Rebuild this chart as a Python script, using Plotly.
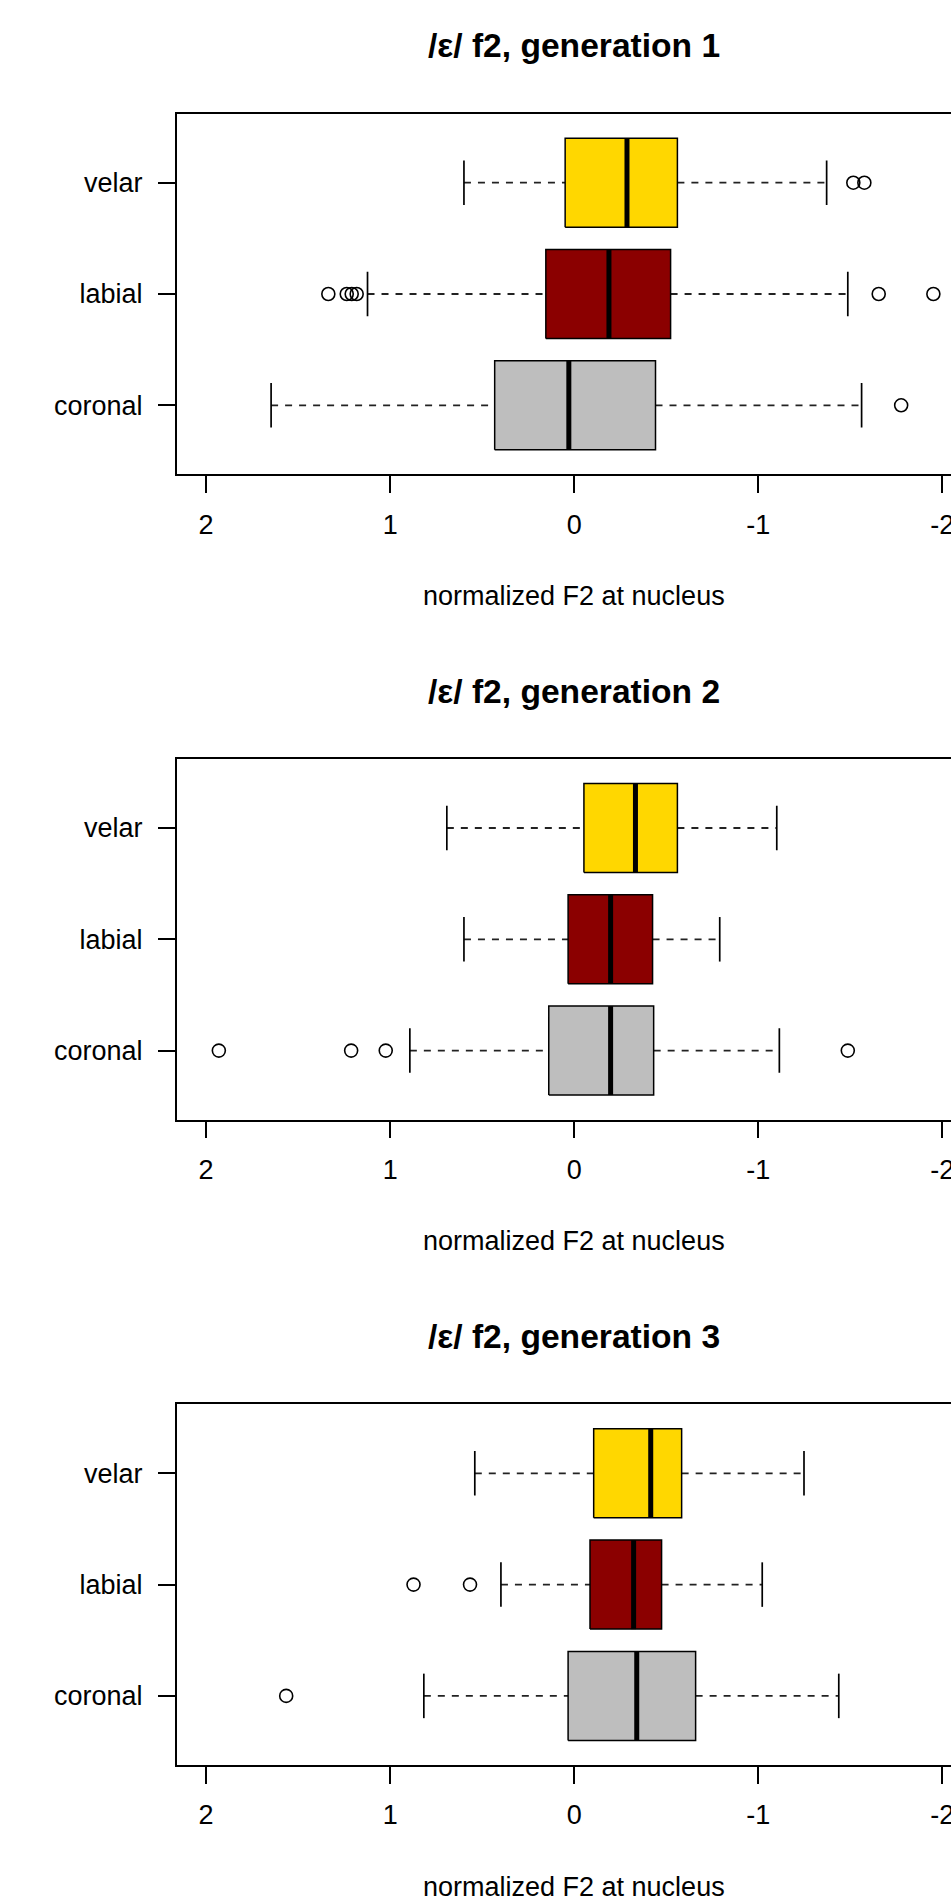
import plotly.graph_objects as go

# ---------------- data ----------------
categories = ["coronal", "labial", "velar"]
box_colors = ["#BEBEBE", "#8B0000", "#FFD700"]
titles = ["/ε/ f2, generation 1", "/ε/ f2, generation 2", "/ε/ f2, generation 3"]
x_tick_vals = [2, 1, 0, -1, -2]
x_tick_text = ["2", "1", "0", "-1", "-2"]
x_label = "normalized F2 at nucleus"

# generation 1  (order: coronal, labial, velar)
g1_whisker_max = [1.647, 1.123, 0.599]
g1_q3 = [0.432, 0.154, 0.049]
g1_median = [0.029, -0.189, -0.287]
g1_q1 = [-0.442, -0.524, -0.561]
g1_whisker_min = [-1.562, -1.487, -1.372]
g1_outliers = [[-1.777], [1.336, 1.236, 1.209, 1.182, -1.655, -1.952], [-1.517, -1.577]]

# generation 2
g2_whisker_max = [0.893, 0.599, 0.692]
g2_q3 = [0.138, 0.033, -0.053]
g2_median = [-0.198, -0.198, -0.333]
g2_q1 = [-0.432, -0.426, -0.561]
g2_whisker_min = [-1.115, -0.791, -1.101]
g2_outliers = [[1.931, 1.212, 1.024, -1.487], [], []]

# generation 3
g3_whisker_max = [0.817, 0.398, 0.540]
g3_q3 = [0.033, -0.086, -0.106]
g3_median = [-0.340, -0.323, -0.416]
g3_q1 = [-0.660, -0.475, -0.584]
g3_whisker_min = [-1.438, -1.022, -1.249]
g3_outliers = [[1.565], [0.873, 0.566], []]

panels = [
    (g1_whisker_max, g1_q3, g1_median, g1_q1, g1_whisker_min, g1_outliers),
    (g2_whisker_max, g2_q3, g2_median, g2_q1, g2_whisker_min, g2_outliers),
    (g3_whisker_max, g3_q3, g3_median, g3_q1, g3_whisker_min, g3_outliers),
]

# ---------------- layout geometry ----------------
W, H = 951, 1896
PANEL_H = 645.3
BOX_TOP, BOX_BOT = 113.7, 474.3
LEFT_PX = 176.7
FONT = "Liberation Sans, Arial, Helvetica, sans-serif"
LW = 1.7
HALF = 0.4      # half box height (category units)
STAPLE = 0.2    # half staple height

fig = go.Figure()
layout_axes = {}
annotations = []

for k, (wmax, q3, med, q1, wmin, outs) in enumerate(panels):
    sfx = "" if k == 0 else str(k + 1)
    xa, ya = "x" + sfx, "y" + sfx
    common = dict(xaxis=xa, yaxis=ya, showlegend=False, hoverinfo="skip")
    for i, cat in enumerate(categories):
        pos = i + 1
        # dashed whiskers
        for a, b in ((wmax[i], q3[i]), (q1[i], wmin[i])):
            fig.add_trace(go.Scatter(x=[a, b], y=[pos, pos], mode="lines",
                                     line=dict(color="#222222", width=1.8, dash="7px,7px"), **common))
        # staples
        for v in (wmax[i], wmin[i]):
            fig.add_trace(go.Scatter(x=[v, v], y=[pos - STAPLE, pos + STAPLE], mode="lines",
                                     line=dict(color="black", width=LW), **common))
        # box
        fig.add_trace(go.Scatter(x=[q3[i], q1[i], q1[i], q3[i], q3[i]],
                                 y=[pos - HALF, pos - HALF, pos + HALF, pos + HALF, pos - HALF],
                                 mode="lines", fill="toself", fillcolor=box_colors[i],
                                 line=dict(color="black", width=1.5), **common))
        # median
        fig.add_trace(go.Scatter(x=[med[i], med[i]], y=[pos - HALF, pos + HALF], mode="lines",
                                 line=dict(color="black", width=5), **common))
        # outliers
        if outs[i]:
            fig.add_trace(go.Scatter(x=outs[i], y=[pos] * len(outs[i]), mode="markers",
                                     marker=dict(symbol="circle-open", size=13, color="black",
                                                 line=dict(width=1.6, color="black")),
                                     cliponaxis=False, **common))

    top_px = BOX_TOP + PANEL_H * k
    bot_px = BOX_BOT + PANEL_H * k
    x_right_val = 2 - (W - 206.2) / 184.0
    layout_axes["xaxis" + sfx] = dict(
        domain=[LEFT_PX / W, 1.0], range=[2.16, x_right_val], anchor=ya,
        tickmode="array", tickvals=x_tick_vals, ticktext=x_tick_text,
        ticks="outside", ticklen=17, tickwidth=LW, tickcolor="black",
        showline=True, linecolor="black", linewidth=LW, mirror=True,
        showgrid=False, zeroline=False, automargin=False,
        ticklabeloverflow="allow",
        tickfont=dict(family=FONT, size=27, color="black"), ticklabelstandoff=8,
    )
    layout_axes["yaxis" + sfx] = dict(
        domain=[1 - bot_px / H, 1 - top_px / H], range=[0.38, 3.62], anchor=xa,
        tickmode="array", tickvals=[1, 2, 3], ticktext=categories,
        ticks="outside", ticklen=17, tickwidth=LW, tickcolor="black",
        showline=True, linecolor="black", linewidth=LW, mirror=False,
        showgrid=False, zeroline=False, automargin=False,
        tickfont=dict(family=FONT, size=27, color="black"), ticklabelstandoff=10,
    )
    annotations.append(dict(text="<b>" + titles[k] + "</b>", xref=xa, x=0,
                            yref="paper", y=1 - (46 + PANEL_H * k) / H,
                            xanchor="center", yanchor="middle", showarrow=False,
                            font=dict(family=FONT, size=33.6, color="black")))
    annotations.append(dict(text=x_label, xref=xa, x=0,
                            yref="paper", y=1 - (596 + PANEL_H * k) / H,
                            xanchor="center", yanchor="middle", showarrow=False,
                            font=dict(family=FONT, size=27, color="black")))

fig.update_layout(
    width=W, height=H, margin=dict(l=0, r=0, t=0, b=0),
    paper_bgcolor="white", plot_bgcolor="white",
    annotations=annotations, **layout_axes,
)

fig.write_html("out.html", config={"displayModeBar": False},
               post_script="document.body.style.margin='0';document.body.style.overflow='hidden';")
